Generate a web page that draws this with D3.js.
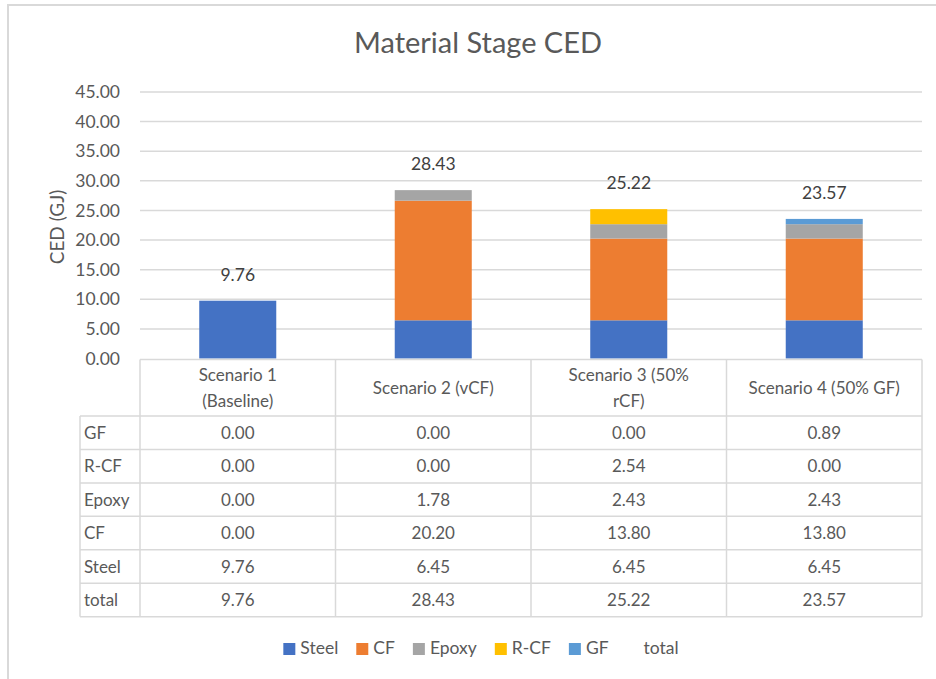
<!DOCTYPE html>
<html>
<head>
<meta charset="utf-8">
<script src="https://cdn.jsdelivr.net/npm/d3@7/dist/d3.min.js"></script>
<style>
  html, body { margin: 0; padding: 0; background: #fff; }
  svg { display: block; font-family: Lato, "Open Sans", sans-serif; }
</style>
</head>
<body>
<svg id="chart" width="936" height="679"></svg>
<script>
// Material-stage cumulative energy demand per scenario (GJ)
const categories = ["Scenario 1 (Baseline)", "Scenario 2 (vCF)", "Scenario 3 (50% rCF)", "Scenario 4 (50% GF)"];
const headerLines = [["Scenario 1", "(Baseline)"], ["Scenario 2 (vCF)"], ["Scenario 3 (50%", "rCF)"], ["Scenario 4 (50% GF)"]];
const seriesNames = ["Steel", "CF", "Epoxy", "R-CF", "GF"];
const steel = [9.76, 6.45, 6.45, 6.45];
const cf    = [0.00, 20.20, 13.80, 13.80];
const epoxy = [0.00, 1.78, 2.43, 2.43];
const rcf   = [0.00, 0.00, 2.54, 0.00];
const gf    = [0.00, 0.00, 0.00, 0.89];
const total = [9.76, 28.43, 25.22, 23.57];
const yTicks = [0, 5, 10, 15, 20, 25, 30, 35, 40, 45];
const colors = ["#4472C4", "#ED7D31", "#A5A5A5", "#FFC000", "#5B9BD5"];
// table rows, top to bottom
const tableRows = [["GF", gf], ["R-CF", rcf], ["Epoxy", epoxy], ["CF", cf], ["Steel", steel], ["total", total]];

const svg = d3.select("#chart");
const textCol = "#595959";
const lineCol = "#d9d9d9";

// chart area frame
svg.append("rect").attr("x", 8).attr("y", 5).attr("width", 1000).attr("height", 800)
  .attr("fill", "#fff").attr("stroke", lineCol).attr("stroke-width", 2);

const plotL = 140, plotR = 922, plotT = 92, plotB = 358.5;
const x = d3.scaleBand().domain(categories).range([plotL, plotR]).paddingInner(0.606).paddingOuter(0.303);
const y = d3.scaleLinear().domain([0, 45]).range([plotB, plotT]);

// title
svg.append("text").attr("x", 478).attr("y", 53).attr("text-anchor", "middle")
  .attr("font-size", 29).attr("fill", textCol)
  .attr("textLength", 248).attr("lengthAdjust", "spacingAndGlyphs")
  .text("Material Stage CED");

// gridlines
svg.append("g").selectAll("line").data(yTicks.filter(d => d > 0)).join("line")
  .attr("x1", plotL).attr("x2", plotR)
  .attr("y1", d => y(d)).attr("y2", d => y(d))
  .attr("stroke", lineCol).attr("stroke-width", 1.5);

// y axis labels
const yAxis = d3.axisLeft(y).tickValues(yTicks).tickFormat(d3.format(".2f")).tickSize(0).tickPadding(0);
const ya = svg.append("g").attr("transform", "translate(120,0)").call(yAxis);
ya.select(".domain").remove();
ya.selectAll("text").attr("font-size", 17.5).attr("fill", textCol).attr("font-family", "Lato, sans-serif");

// y axis title
svg.append("text").attr("transform", "translate(64,227) rotate(-90)").attr("text-anchor", "middle")
  .attr("font-size", 19).attr("fill", textCol).text("CED (GJ)");

// stacked bars
const rows = categories.map((c, i) => ({ cat: c, Steel: steel[i], CF: cf[i], Epoxy: epoxy[i], "R-CF": rcf[i], GF: gf[i] }));
const stacked = d3.stack().keys(seriesNames)(rows);
svg.append("g").selectAll("g").data(stacked).join("g")
  .attr("fill", (d, i) => colors[i])
  .selectAll("rect").data(d => d.filter(p => p[1] - p[0] > 0)).join("rect")
  .attr("x", d => x(d.data.cat)).attr("width", x.bandwidth())
  .attr("y", d => y(d[1])).attr("height", d => y(d[0]) - y(d[1]));

// total labels
svg.append("g").selectAll("text").data(categories).join("text")
  .attr("x", d => x(d) + x.bandwidth() / 2)
  .attr("y", (d, i) => y(total[i]) - 20)
  .attr("text-anchor", "middle").attr("font-size", 17.5).attr("fill", "#404040")
  .text((d, i) => total[i].toFixed(2));

// data table
const tableL = 80, headT = 359.5, headB = 416, rowH = 33.45;
const colEdges = [plotL].concat(categories.map(c => x(c) - x.step() * 0.303 + x.step()));
const tableB = headB + rowH * tableRows.length;
const tg = svg.append("g").attr("stroke", lineCol).attr("stroke-width", 1.5);
// horizontal rules
tg.append("line").attr("x1", plotL).attr("x2", plotR).attr("y1", headT).attr("y2", headT);
tableRows.forEach((r, i) => {
  tg.append("line").attr("x1", tableL).attr("x2", plotR)
    .attr("y1", headB + rowH * i).attr("y2", headB + rowH * i);
});
tg.append("line").attr("x1", tableL).attr("x2", plotR).attr("y1", tableB).attr("y2", tableB);
// vertical rules
tg.append("line").attr("x1", tableL).attr("x2", tableL).attr("y1", headB).attr("y2", tableB);
colEdges.forEach(cx => {
  tg.append("line").attr("x1", cx).attr("x2", cx).attr("y1", headT).attr("y2", tableB);
});

// header cells
categories.forEach((c, i) => {
  const cx = x(c) + x.bandwidth() / 2;
  const lines = headerLines[i];
  const midY = (headT + headB) / 2;
  const lh = 25.5;
  lines.forEach((ln, j) => {
    svg.append("text").attr("x", cx)
      .attr("y", midY + (j - (lines.length - 1) / 2) * lh + 6)
      .attr("text-anchor", "middle").attr("font-size", 17).attr("fill", textCol).text(ln);
  });
});

// body cells
tableRows.forEach(([name, vals], i) => {
  const cy = headB + rowH * i + rowH / 2 + 6;
  svg.append("text").attr("x", 84).attr("y", cy).attr("font-size", 17).attr("fill", textCol).text(name);
  vals.forEach((v, j) => {
    svg.append("text").attr("x", x(categories[j]) + x.bandwidth() / 2).attr("y", cy)
      .attr("text-anchor", "middle").attr("font-size", 17).attr("fill", textCol).text(v.toFixed(2));
  });
});

// legend
const legendItems = seriesNames.map((n, i) => ({ name: n, color: colors[i] })).concat([{ name: "total", color: null }]);
const lg = svg.append("g");
let cursor = 0;
legendItems.forEach(it => {
  const g = lg.append("g").attr("transform", `translate(${cursor},0)`);
  if (it.color) g.append("rect").attr("x", 0).attr("y", -11).attr("width", 12).attr("height", 12).attr("fill", it.color);
  const t = g.append("text").attr("x", 17).attr("y", 0).attr("font-size", 17.5).attr("fill", textCol).text(it.name);
  cursor += 17 + t.node().getComputedTextLength() + 18;
});
const legendW = cursor - 18;
lg.attr("transform", `translate(${481 - legendW / 2},654)`);
</script>
</body>
</html>
